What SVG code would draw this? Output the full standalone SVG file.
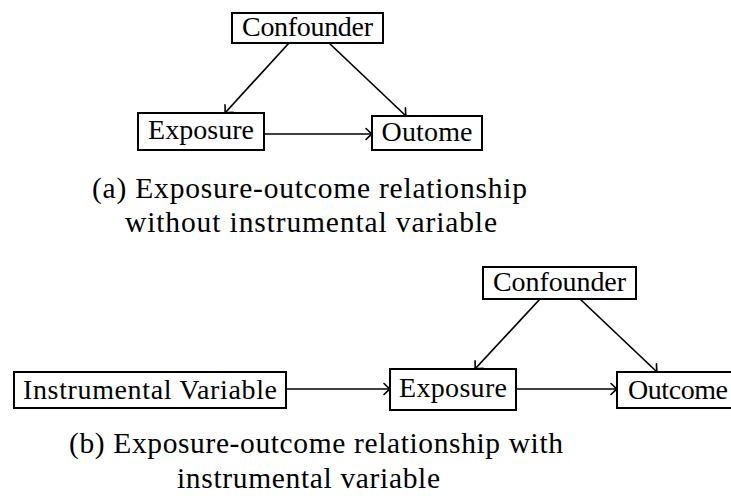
<svg xmlns="http://www.w3.org/2000/svg" width="731" height="496" viewBox="0 0 731 496">
<defs>
<style>
.box{fill:#fff;stroke:#000;stroke-width:2}
.t{font-family:"Liberation Serif","Times New Roman",serif;font-size:28px;fill:#000;text-anchor:middle}
.c{font-size:29.5px}
.e{fill:none;stroke:#000;stroke-width:1.7}
</style>
<marker id="ah" markerUnits="userSpaceOnUse" markerWidth="16" markerHeight="16" viewBox="-8 -8 16 16" refX="0" refY="0" orient="auto">
<path d="M-6,-5.5 Q-2,-1.5 0,0 Q-2,1.5 -6,5.5" fill="none" stroke="#000" stroke-width="1.6" stroke-linecap="round"/>
</marker>
</defs>
<rect width="731" height="496" fill="#fff"/>
<g id="connectors">
<line class="e" x1="289" y1="43" x2="225" y2="113" marker-end="url(#ah)"/>
<line class="e" x1="329" y1="43" x2="406" y2="116" marker-end="url(#ah)"/>
<line class="e" x1="264" y1="134" x2="372" y2="134" marker-end="url(#ah)"/>
<line class="e" x1="540" y1="299" x2="475" y2="369" marker-end="url(#ah)"/>
<line class="e" x1="580" y1="299" x2="657" y2="372" marker-end="url(#ah)"/>
<line class="e" x1="286" y1="389" x2="390" y2="389" marker-end="url(#ah)"/>
<line class="e" x1="516" y1="389" x2="617" y2="389" marker-end="url(#ah)"/>
</g>
<g id="a-confounder"><rect class="box" x="232" y="13" width="151" height="30"/><text class="t" x="307.5" y="36" textLength="131">Confounder</text></g>
<g id="a-exposure"><rect class="box" x="138" y="113" width="126" height="37"/><text class="t" x="201" y="139" textLength="106">Exposure</text></g>
<g id="a-outome"><rect class="box" x="372" y="116" width="110" height="34"/><text class="t" x="427" y="141" textLength="91">Outome</text></g>
<g id="caption-a">
<text class="t c" x="309.5" y="198" textLength="435">(a) Exposure-outcome relationship</text>
<text class="t c" x="311" y="232" textLength="372">without instrumental variable</text>
</g>
<g id="b-confounder"><rect class="box" x="483" y="267" width="153" height="32"/><text class="t" x="559.5" y="291" textLength="133">Confounder</text></g>
<g id="b-iv"><rect class="box" x="14" y="372" width="272" height="36"/><text class="t" x="150" y="399" textLength="254">Instrumental Variable</text></g>
<g id="b-exposure"><rect class="box" x="390" y="369" width="126" height="41"/><text class="t" x="453" y="397" textLength="108">Exposure</text></g>
<g id="b-outcome"><rect class="box" x="617" y="372" width="130" height="36"/><text class="t" x="678" y="399" textLength="100">Outcome</text></g>
<g id="caption-b">
<text class="t c" x="316" y="453" textLength="494">(b) Exposure-outcome relationship with</text>
<text class="t c" x="308.5" y="488" textLength="263">instrumental variable</text>
</g>
</svg>
